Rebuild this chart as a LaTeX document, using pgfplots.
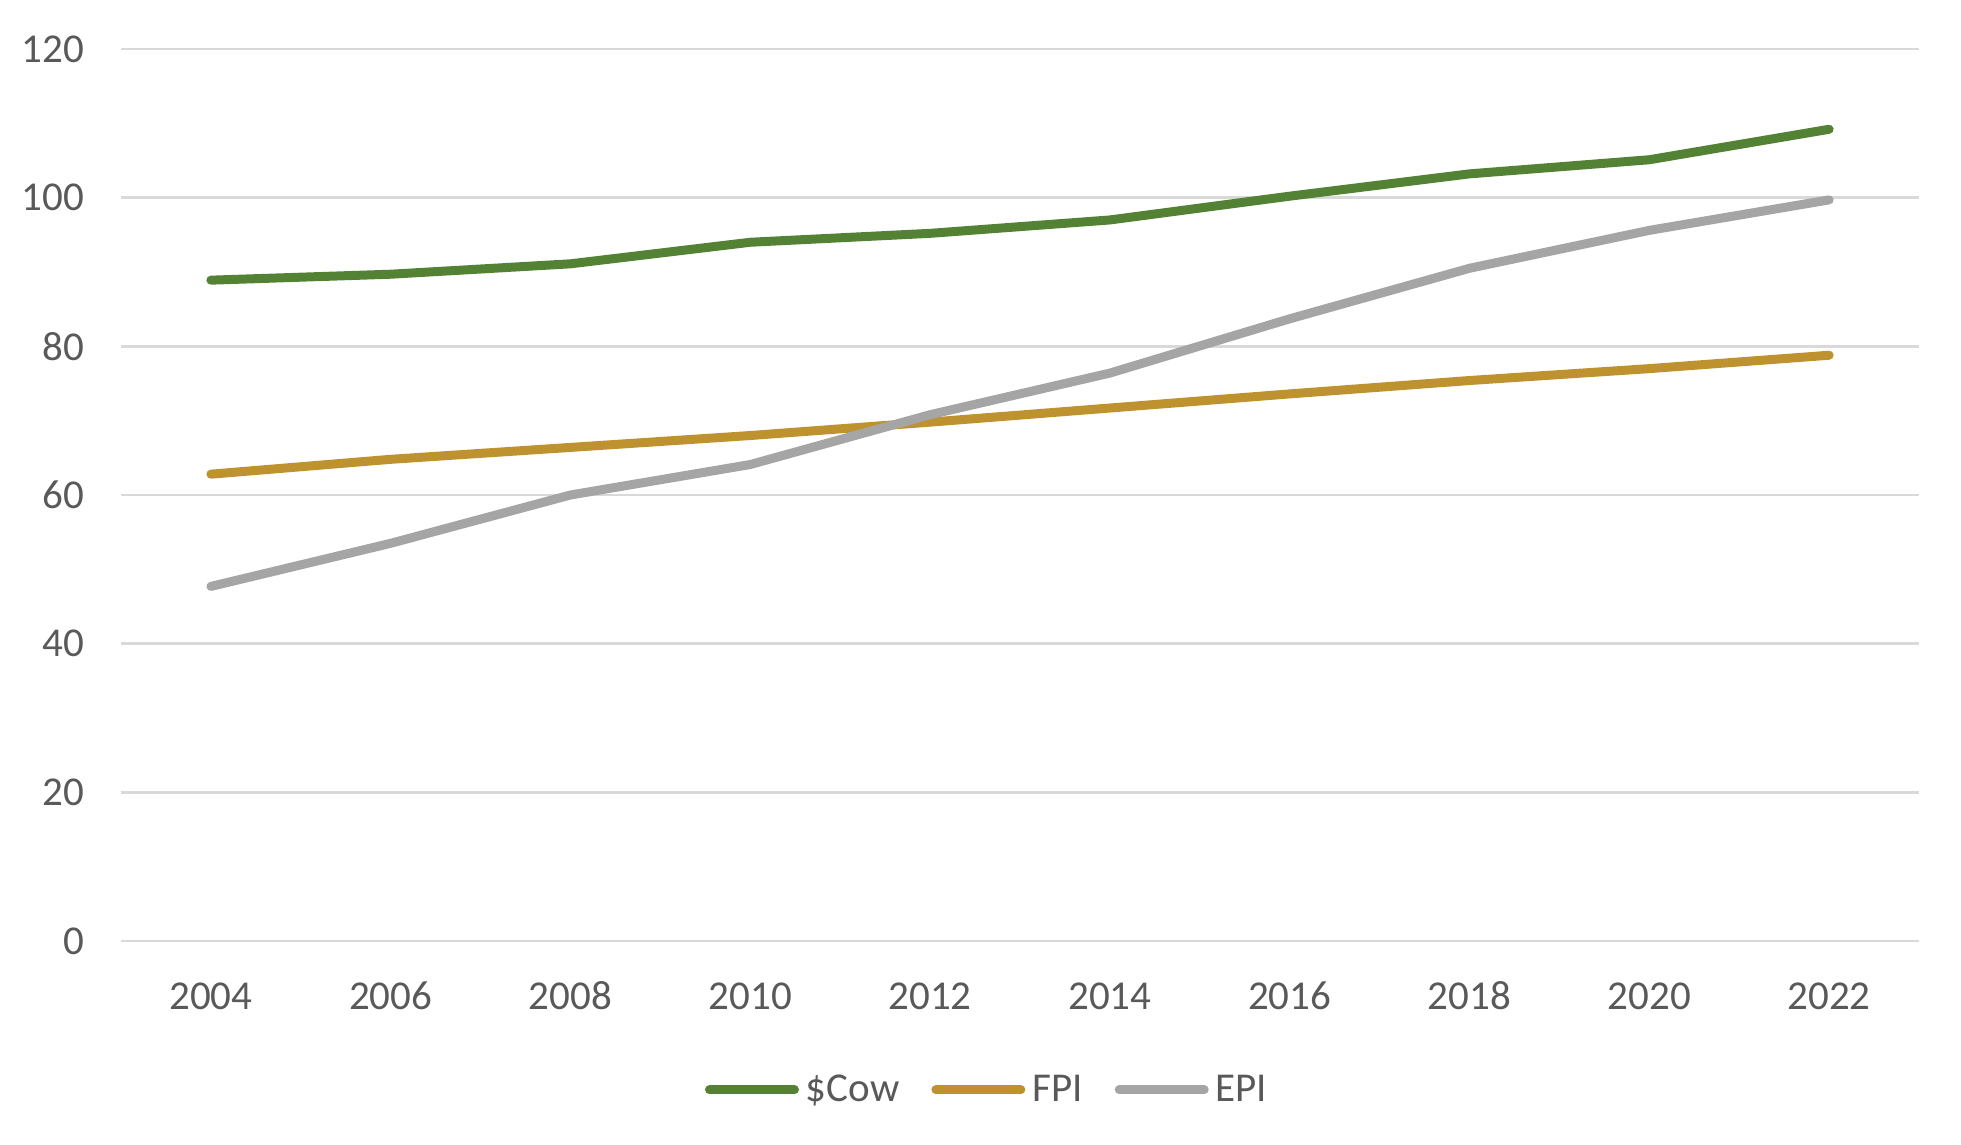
\documentclass[border=0pt]{standalone}
\usepackage{pgfplots}
\pgfplotsset{compat=1.18}
\usepackage{fontspec}
\setmainfont{Carlito}
\definecolor{cowgreen}{HTML}{548235}
\definecolor{fpigold}{HTML}{BF9230}
\definecolor{epigray}{HTML}{A5A5A5}
\definecolor{gridgray}{HTML}{D9D9D9}
\definecolor{txt}{HTML}{595959}
\begin{document}
\begin{tikzpicture}
\path[use as bounding box] (0,0) rectangle (980.5pt,572.5pt);
\begin{axis}[
  at={(60.5pt,102pt)}, anchor=south west,
  scale only axis, width=899pt, height=446pt,
  xmin=-0.5, xmax=9.5, ymin=0, ymax=120,
  xtick={0,...,9},
  xticklabels={2004,2006,2008,2010,2012,2014,2016,2018,2020,2022},
  ytick={0,20,...,120},
  axis line style={draw=none},
  major tick length=0pt,
  ymajorgrids, grid style={gridgray, line width=1.4pt},
  font=\fontsize{20.5}{24}\selectfont,
  /pgf/number format/assume math mode=true,
  ticklabel style={text=txt, font=\fontsize{20.5}{24}\selectfont},
  xticklabel style={anchor=center, yshift=-27.5pt},
  yticklabel style={anchor=east, xshift=-15pt},
  legend style={at={(0.4817,-0.167)}, anchor=center, draw=none, fill=none,
    legend columns=-1, text=txt, font=\fontsize{20.5}{24}\selectfont,
    /tikz/every odd column/.append style={column sep=2.5pt},
    /tikz/every even column/.append style={column sep=15pt},
    nodes={inner sep=1pt}},
  legend image code/.code={\draw[#1, line cap=round] (2.25pt,0pt) -- (44.75pt,0pt);},
  every axis plot/.append style={line width=4.5pt, line cap=round, line join=round},
]
\addplot[cowgreen] coordinates {(0,88.9) (1,89.7) (2,91.1) (3,94.0) (4,95.2) (5,97.0) (6,100.2) (7,103.2) (8,105.1) (9,109.2)};
\addlegendentry{\$Cow}
\addplot[fpigold] coordinates {(0,62.8) (1,64.8) (2,66.4) (3,68.0) (4,69.8) (5,71.7) (6,73.6) (7,75.4) (8,77.0) (9,78.8)};
\addlegendentry{FPI}
\addplot[epigray] coordinates {(0,47.7) (1,53.5) (2,60.0) (3,64.1) (4,70.8) (5,76.4) (6,83.7) (7,90.5) (8,95.6) (9,99.7)};
\addlegendentry{EPI}
\end{axis}
\end{tikzpicture}
\end{document}
